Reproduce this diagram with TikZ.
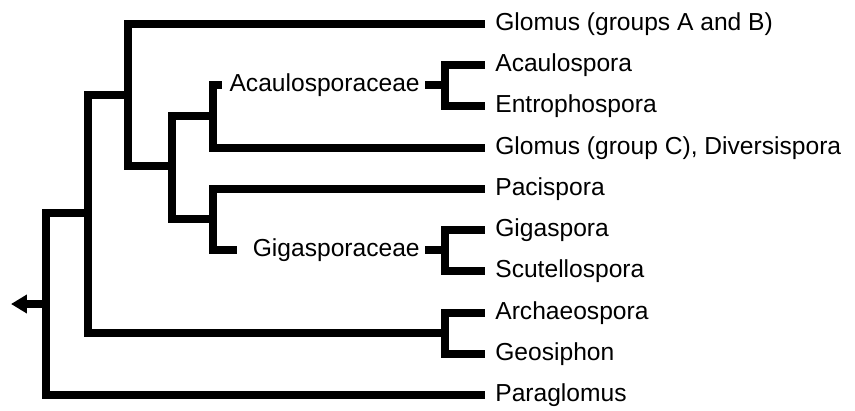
\documentclass[tikz,border=0pt]{standalone}
\usepackage{fontspec}
\setmainfont{Liberation Sans}
\usepackage{tikz}
\usetikzlibrary{arrows.meta, positioning}

\begin{document}
\begin{tikzpicture}[
    x=0.02cm, y=-0.02cm,
    every node/.style={font=\fontsize{14}{16}\selectfont},
    branch/.style={line width=0.16cm, line join=miter, draw=black},
    leaf/.style={anchor=west, inner xsep=0.2cm, inner ysep=0pt, text height=0.72em, text depth=0pt},
    family/.style={anchor=east, inner xsep=0.1cm, inner ysep=0pt, text height=0.72em, text depth=0pt},
    rootarrow/.style={-{Triangle[length=0.32cm, width=0.36cm]}}
]
    \useasboundingbox (0,0) rectangle (855,410);

    % leaves
    \node[leaf] (glomusAB) at (485,24) {Glomus (groups A and B)};
    \node[leaf] (acaulospora) at (485,65) {Acaulospora};
    \node[leaf] (entrophospora) at (485,106) {Entrophospora};
    \node[leaf] (glomusC) at (485,148) {Glomus (group C), Diversispora};
    \node[leaf] (pacispora) at (485,189) {Pacispora};
    \node[leaf] (gigaspora) at (485,230) {Gigaspora};
    \node[leaf] (scutellospora) at (485,271) {Scutellospora};
    \node[leaf] (archaeospora) at (485,313) {Archaeospora};
    \node[leaf] (geosiphon) at (485,354) {Geosiphon};
    \node[leaf] (paraglomus) at (485,395) {Paraglomus};

    % family labels
    \node[family] (acaLbl) at (425,85) {Acaulosporaceae};
    \node[family] (gigLbl) at (425,250) {Gigasporaceae};

    % internal nodes
    \coordinate (n0) at (46,304);
    \coordinate (n1) at (88,213);
    \coordinate (n2) at (128,95);
    \coordinate (n3) at (172,166);
    \coordinate (nA) at (213,116);
    \coordinate (nG) at (213,219);
    \coordinate (acaTick) at (222,85);
    \coordinate (gigTick) at (237,250);
    \coordinate (aca) at (445,85);
    \coordinate (gig) at (445,250);
    \coordinate (arc) at (445,333);
    \coordinate (rootTip) at (11,304);

    \draw[branch, rootarrow] (n0) -- (rootTip);
    \draw[branch] (n0) |- (n1);
    \draw[branch] (n0) |- (paraglomus.west);
    \draw[branch] (n1) |- (n2);
    \draw[branch] (n1) |- (arc);
    \draw[branch] (n2) |- (glomusAB.west);
    \draw[branch] (n2) |- (n3);
    \draw[branch] (n3) |- (nA);
    \draw[branch] (n3) |- (nG);
    \draw[branch] (nA) |- (acaTick);
    \draw[branch] (nA) |- (glomusC.west);
    \draw[branch] (nG) |- (pacispora.west);
    \draw[branch] (nG) |- (gigTick);
    \draw[branch] (acaLbl.east) -- (aca);
    \draw[branch] (gigLbl.east) -- (gig);
    \draw[branch] (aca) |- (acaulospora.west);
    \draw[branch] (aca) |- (entrophospora.west);
    \draw[branch] (gig) |- (gigaspora.west);
    \draw[branch] (gig) |- (scutellospora.west);
    \draw[branch] (arc) |- (archaeospora.west);
    \draw[branch] (arc) |- (geosiphon.west);
\end{tikzpicture}
\end{document}
